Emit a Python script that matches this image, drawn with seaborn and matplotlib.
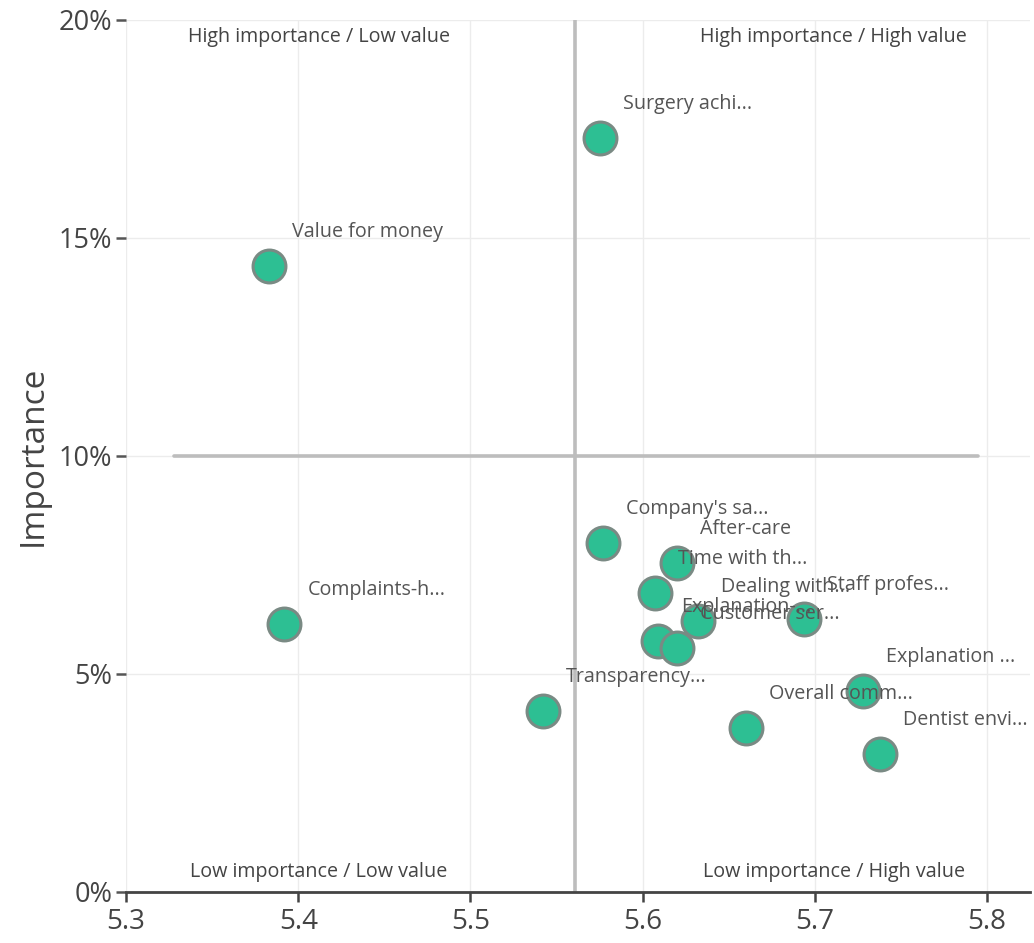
import matplotlib
matplotlib.use("Agg")
import matplotlib.pyplot as plt
import matplotlib.ticker as mticker
import seaborn as sns
import pandas as pd

# Driver analysis: satisfaction score (value) vs. derived importance
attributes = [
    "Surgery achi...", "Value for money", "Company's sa...", "After-care",
    "Time with th...", "Dealing with...", "Staff profes...", "Explanation-...",
    "Customer ser...", "Complaints-h...", "Transparency...", "Overall comm...",
    "Explanation ...", "Dentist envi...",
]
value_score = [5.575, 5.383, 5.577, 5.620, 5.607, 5.632, 5.694, 5.609,
               5.620, 5.392, 5.542, 5.660, 5.728, 5.738]
importance_pct = [17.3, 14.35, 8.0, 7.55, 6.85, 6.2, 6.25, 5.75,
                  5.6, 6.15, 4.15, 3.75, 4.6, 3.15]

quadrant_labels = ["High importance / Low value", "High importance / High value",
                   "Low importance / Low value", "Low importance / High value"]
y_ticks = [0, 5, 10, 15, 20]
x_ticks = [5.3, 5.4, 5.5, 5.6, 5.7, 5.8]

# quadrant split points
value_split = 5.561
importance_split = 10

df = pd.DataFrame({"attribute": attributes, "value": value_score,
                   "importance": importance_pct})

sns.set_style("white")
plt.rcParams["font.family"] = ["Open Sans", "DejaVu Sans"]

fig = plt.figure(figsize=(10.34, 9.43), dpi=100)
ax = fig.add_axes([0.1219, 0.0544, 0.8743, 0.9244])

# quadrant dividers
ax.plot([value_split, value_split], [0, 20], color="#bdbdbd", lw=2.6, zorder=2)
ax.plot([5.328, 5.795], [importance_split, importance_split],
        color="#bdbdbd", lw=2.6, zorder=2)

sns.scatterplot(data=df, x="value", y="importance", ax=ax, s=560,
                color="#2dbf93", edgecolor="#7a8a84", linewidth=2.2,
                zorder=3, legend=False)

for name, xv, yv in zip(attributes, value_score, importance_pct):
    ax.annotate(name, (xv, yv), xytext=(23, 34), textcoords="offset pixels",
                ha="left", va="center", fontsize=14.2, color="#555555",
                zorder=4)

# quadrant captions
qx = [5.412, 5.711, 5.412, 5.711]
qy = [19.6, 19.6, 0.45, 0.45]
for lab, xq, yq in zip(quadrant_labels, qx, qy):
    ax.text(xq, yq, lab, ha="center", va="center", fontsize=14.2,
            color="#444444", zorder=4)

ax.set_xlim(5.3, 5.825)
ax.set_ylim(0, 20)
ax.set_xticks(x_ticks)
ax.set_yticks(y_ticks)
ax.xaxis.set_major_formatter(mticker.FormatStrFormatter("%.1f"))
ax.yaxis.set_major_formatter(mticker.FuncFormatter(lambda v, p: f"{v:.0f}%"))

ax.grid(True, color="#ececec", lw=1, zorder=0)
ax.set_axisbelow(True)
for side in ["top", "right", "left"]:
    ax.spines[side].set_visible(False)
ax.spines["bottom"].set_color("#444444")
ax.spines["bottom"].set_linewidth(2)

ax.tick_params(axis="x", direction="out", length=7, width=1.8, color="#444444",
               labelsize=20, labelcolor="#444444", pad=5, bottom=True)
ax.tick_params(axis="y", direction="out", length=7, width=1.8, color="#555555",
               labelsize=19.5, labelcolor="#444444", pad=3, left=True)

ax.set_xlabel("")
ax.set_ylabel("Importance", fontsize=24, color="#444444", labelpad=6)

fig.savefig("out.png", dpi=100)
